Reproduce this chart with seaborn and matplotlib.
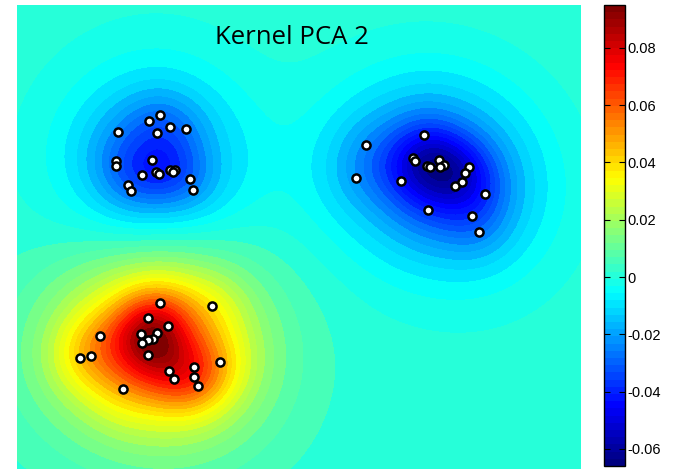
import numpy as np
import pandas as pd
import seaborn as sns
import matplotlib.pyplot as plt
import matplotlib as mpl

# ---- data (arbitrary data units) ----
tl_x = [1.79, 2.34, 2.53, 2.48, 2.72, 2.99, 1.76, 1.76, 2.39, 2.22, 2.46, 2.52, 2.72, 2.80, 2.76, 3.06, 3.12, 1.96, 2.03]
tl_y = [5.98, 6.17, 6.28, 5.96, 6.06, 6.03, 5.47, 5.38, 5.48, 5.21, 5.26, 5.23, 5.30, 5.30, 5.27, 5.14, 4.95, 5.04, 4.93]
tr_x = [7.21, 6.18, 7.02, 7.06, 7.27, 7.32, 7.48, 7.57, 7.50, 8.01, 7.94, 7.89, 7.77, 6.01, 6.80, 8.29, 7.28, 8.07, 8.20]
tr_y = [5.93, 5.74, 5.51, 5.46, 5.38, 5.35, 5.48, 5.40, 5.35, 5.36, 5.25, 5.09, 5.02, 5.16, 5.11, 4.88, 4.60, 4.49, 4.20]
bl_x = [2.53, 3.45, 2.32, 2.67, 2.19, 2.48, 2.42, 2.32, 2.22, 1.47, 1.32, 1.11, 2.32, 3.60, 2.70, 2.78, 3.13, 3.13, 3.21, 1.88]
bl_y = [2.94, 2.89, 2.68, 2.53, 2.39, 2.42, 2.31, 2.29, 2.23, 2.36, 2.00, 1.96, 2.03, 1.90, 1.74, 1.60, 1.81, 1.64, 1.48, 1.42]

cluster_peak = {"tl": -0.045, "tr": -0.067, "bl": 0.095}  # extreme component value per cluster
background = 0.0018
clim = (-0.066, 0.095)
cbar_ticks = [-0.06, -0.04, -0.02, 0, 0.02, 0.04, 0.06, 0.08]
cbar_labels = ["-0.06", "-0.04", "-0.02", "0", "0.02", "0.04", "0.06", "0.08"]
title = "Kernel PCA 2"

pts = pd.DataFrame({
    "x": tl_x + tr_x + bl_x,
    "y": tl_y + tr_y + bl_y,
    "cluster": ["tl"] * len(tl_x) + ["tr"] * len(tr_x) + ["bl"] * len(bl_x),
})

# ---- field on a grid ----
xlim = (0, 10)
ylim = (0, 8.23)
gx = np.linspace(*xlim, 400)
gy = np.linspace(*ylim, 330)
X, Y = np.meshgrid(gx, gy)


def kernel_sum(xs, ys, s):
    d2 = (X[..., None] - xs) ** 2 + (Y[..., None] - ys) ** 2
    g = np.exp(-d2 / (2 * s ** 2)).sum(-1)
    return g / g.max()


Z = np.full_like(X, background)
for c, g in pts.groupby("cluster"):
    comp = 0.5 * kernel_sum(g["x"].values, g["y"].values, 0.45) + \
        0.5 * kernel_sum(g["x"].values, g["y"].values, 1.08)
    Z += cluster_peak[c] * comp / comp.max()

# ---- figure ----
fig = plt.figure(figsize=(6.82, 4.69), dpi=100)
ax = fig.add_axes([17 / 682, 0, 564 / 682, 464 / 469])
cax = fig.add_axes([604 / 682, 3 / 469, 21 / 682, 461 / 469])

# MATLAB-style jet, 64 colours
cmap = mpl.colors.LinearSegmentedColormap.from_list(
    "mjet",
    [(0.0, (0, 0, 0.5)), (0.125, (0, 0, 1)), (0.375, (0, 1, 1)),
     (0.625, (1, 1, 0)), (0.875, (1, 0, 0)), (1.0, (0.5, 0, 0))], N=64)
norm = mpl.colors.Normalize(*clim)
levels = np.linspace(clim[0], clim[1], 45)
ax.contourf(X, Y, Z, levels=levels, cmap=cmap, norm=norm, extend="both")

sns.scatterplot(data=pts, x="x", y="y", ax=ax, s=34, color="white",
                edgecolor="black", linewidth=1.8, legend=False, zorder=3)
ax.set_xlim(*xlim)
ax.set_ylim(*ylim)
ax.set_axis_off()

ax.text((291.5 - 17) / 564, (469 - 44) / 464, title, transform=ax.transAxes,
        ha="center", va="baseline", fontsize=18.5, family="Open Sans", color="black")

cb = fig.colorbar(mpl.cm.ScalarMappable(norm=norm, cmap=cmap), cax=cax)
cb.set_ticks(cbar_ticks)
cb.set_ticklabels(cbar_labels)
cax.tick_params(direction="in", left=True, right=True, length=4, width=0.8,
                labelsize=10.5, pad=2)
for t in cax.get_yticklabels():
    t.set_family("Liberation Sans")
cb.outline.set_linewidth(1.0)

fig.savefig("out.png", dpi=100)
